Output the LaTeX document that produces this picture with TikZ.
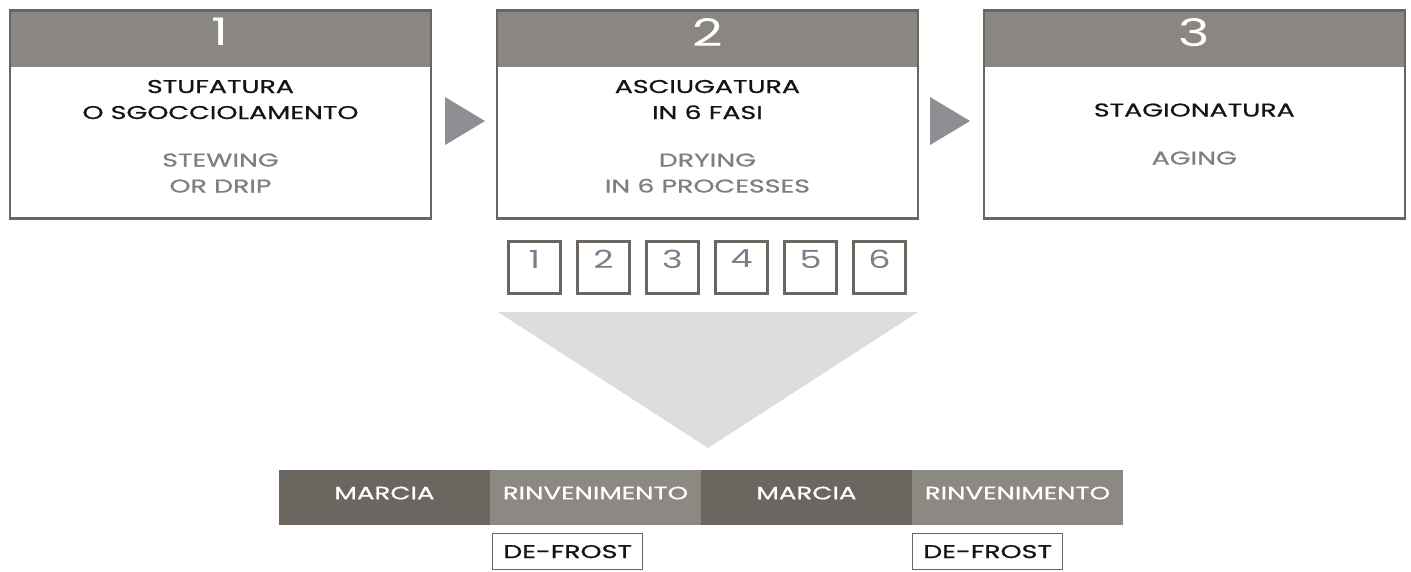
\documentclass[tikz,border=0pt]{standalone}
\usepackage{fontspec}
\setmainfont{Poppins}[FakeStretch=1.45, FakeBold=0.9]
\newfontfamily\fina{Poppins}[FakeStretch=1.4]
\usetikzlibrary{positioning}
\definecolor{borde}{RGB}{107,103,96}
\definecolor{cabeza}{RGB}{138,135,130}
\definecolor{oscuro}{RGB}{107,102,95}
\definecolor{claro}{RGB}{140,136,130}
\definecolor{flecha}{RGB}{143,143,147}
\definecolor{triang}{RGB}{220,221,223}
\definecolor{grist}{RGB}{127,127,131}
\definecolor{negro}{RGB}{20,20,20}
\tikzset{
  cab/.style={fill=cabeza, minimum width=421pt, minimum height=58pt, inner sep=0pt, text=white, text depth=12pt, font=\fina\fontsize{38}{38}\selectfont},
  caja/.style={draw=borde, line width=2.5pt, minimum width=421pt, minimum height=208pt, inner sep=0pt},
  tit/.style={align=center, inner sep=0pt, text=negro, font=\fontsize{18.5}{26}\selectfont},
  sub/.style={tit, text=grist},
  fase/.style={draw=borde, line width=2.5pt, minimum width=52pt, minimum height=52pt, inner sep=0pt, text=grist, text depth=17pt, font=\fina\fontsize{25}{25}\selectfont},
  seg/.style={minimum width=211pt, minimum height=55pt, inner sep=0pt, outer sep=0pt, text=white, text depth=9pt, font=\fontsize{18}{18}\selectfont},
  defr/.style={draw=borde, line width=1.2pt, minimum width=150pt, minimum height=36pt, inner sep=0pt, text=negro, font=\fontsize{18.5}{18}\selectfont},
  punta/.style={fill=flecha},
}
\begin{document}
\begin{tikzpicture}[x=1pt, y=-1pt]
  \useasboundingbox (0,0) rectangle (1411,571);
  % the three stages
  \node[cab] (h1) at (220.5,38.25) {1};
  \node[cab, right=65.5pt of h1] (h2) {2};
  \node[cab, right=65.5pt of h2] (h3) {3};
  \foreach \k in {1,2,3}
    \node[caja, anchor=north] (b\k) at (h\k.north) {};
  \node[tit] (t1) at ([yshift=-90.5pt]h1.north) {STUFATURA\\O SGOCCIOLAMENTO};
  \node[sub] (s1) at ([yshift=-164pt]h1.north) {STEWING\\OR DRIP};
  \node[tit] (t2) at ([yshift=-90.5pt]h2.north) {ASCIUGATURA\\IN 6 FASI};
  \node[sub] (s2) at ([yshift=-164pt]h2.north) {DRYING\\IN 6 PROCESSES};
  \node[tit] (t3) at ([yshift=-101pt]h3.north) {STAGIONATURA};
  \node[sub] (s3) at ([yshift=-149pt]h3.north) {AGING};
  % arrows between stages
  \fill[punta] (445,97) -- (485,121) -- (445,145) -- cycle;
  \fill[punta] (930,97) -- (970,121) -- (930,145) -- cycle;
  % six phases
  \foreach \i in {1,...,6}
    \node[fase] (f\i) at ({534.5+69*(\i-1)},267.5) {\i};
  \fill[triang] (498,312) -- (918,312) -- (708,448) -- cycle;
  % cycle bar
  \node[seg, fill=oscuro] (m1) at (384.5,497.5) {MARCIA};
  \node[seg, fill=claro, right=0pt of m1] (r1) {RINVENIMENTO};
  \node[seg, fill=oscuro, right=0pt of r1] (m2) {MARCIA};
  \node[seg, fill=claro, right=0pt of m2] (r2) {RINVENIMENTO};
  \node[defr, below right=8pt and 2pt of r1.south west] (d1) {DE-FROST};
  \node[defr, below right=8pt and 0pt of r2.south west] (d2) {DE-FROST};
\end{tikzpicture}
\end{document}
